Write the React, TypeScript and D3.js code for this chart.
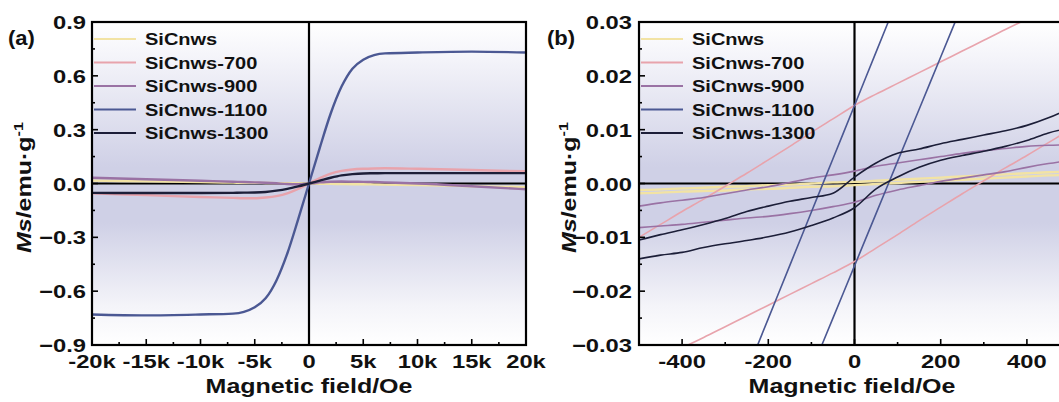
import React, { useEffect, useRef } from 'react';
import * as d3 from 'd3';

// series names + colours (legend order)
const seriesNames = ['SiCnws', 'SiCnws-700', 'SiCnws-900', 'SiCnws-1100', 'SiCnws-1300'];
const seriesColors = ['#f2e3a4', '#e8a3ac', '#9a72a4', '#4b5893', '#1c1e38'];

// panel (a): full loops, field in Oe
const fieldA = [-20000, -15000, -10000, -7000, -6000, -5000, -4000, -3000, -2000, -1000, 0, 1000, 2000, 3000, 4000, 5000, 6000, 7000, 10000, 15000, 20000];
const msA_SiCnws = [0.016, 0.012, 0.008, 0.005, 0.004, 0.004, 0.003, 0.002, 0.002, 0.001, 0, -0.001, -0.002, -0.003, -0.004, -0.004, -0.005, -0.006, -0.009, -0.015, -0.02];
const msA_700 = [-0.055, -0.065, -0.075, -0.08, -0.082, -0.082, -0.078, -0.07, -0.055, -0.03, 0, 0.03, 0.055, 0.07, 0.078, 0.082, 0.084, 0.085, 0.082, 0.075, 0.068];
const msA_900 = [0.032, 0.024, 0.015, 0.01, 0.008, 0.006, 0.004, 0.001, -0.003, -0.004, 0, 0.006, 0.01, 0.011, 0.01, 0.009, 0.008, 0.006, 0.0, -0.015, -0.032];
const msA_1100 = [-0.73, -0.735, -0.73, -0.725, -0.715, -0.69, -0.64, -0.54, -0.39, -0.2, 0, 0.2, 0.39, 0.54, 0.64, 0.69, 0.715, 0.725, 0.73, 0.735, 0.73];
const msA_1300 = [-0.052, -0.053, -0.053, -0.052, -0.051, -0.05, -0.047, -0.04, -0.03, -0.016, 0, 0.016, 0.032, 0.045, 0.052, 0.056, 0.057, 0.058, 0.058, 0.058, 0.058];

// panel (b): low-field zoom, two branches per sample
const fieldB = [-500, -450, -400, -350, -300, -250, -200, -150, -100, -50, 0, 50, 100, 150, 200, 250, 300, 350, 400, 450, 500];
const msB_SiCnws_up = [-0.0012, -0.0011, -0.0009, -0.0008, -0.0006, -0.0005, -0.0003, -0.0002, 0.0, 0.0002, 0.0003, 0.0005, 0.0007, 0.0009, 0.0011, 0.0013, 0.0015, 0.0017, 0.0019, 0.0021, 0.0022];
const msB_SiCnws_down = [-0.0018, -0.0017, -0.0015, -0.0014, -0.0013, -0.0011, -0.001, -0.0008, -0.0006, -0.0005, -0.0003, -0.0001, 0.0001, 0.0003, 0.0005, 0.0007, 0.0009, 0.0011, 0.0013, 0.0015, 0.0016];
const msB_700_up = [-0.01, -0.0076, -0.0052, -0.0029, -0.0005, 0.0019, 0.0044, 0.0069, 0.0095, 0.012, 0.0145, 0.0166, 0.0186, 0.0206, 0.0226, 0.0246, 0.0266, 0.0286, 0.0305, 0.0322, 0.034];
const msB_700_down = [-0.034, -0.0322, -0.0305, -0.0286, -0.0266, -0.0246, -0.0226, -0.0206, -0.0186, -0.0166, -0.0145, -0.012, -0.0095, -0.0069, -0.0044, -0.0019, 0.0005, 0.0029, 0.0052, 0.0076, 0.01];
const msB_900_up = [-0.0042, -0.0036, -0.0031, -0.0026, -0.0019, -0.0012, -0.0006, 0.0002, 0.001, 0.0016, 0.0023, 0.0032, 0.0038, 0.0044, 0.005, 0.0056, 0.0061, 0.0065, 0.0069, 0.0071, 0.0072];
const msB_900_down = [-0.0082, -0.0079, -0.0076, -0.0072, -0.0068, -0.0064, -0.0061, -0.0056, -0.005, -0.0043, -0.0035, -0.0022, -0.0012, -0.0004, 0.0004, 0.001, 0.0016, 0.0022, 0.003, 0.0037, 0.0043];
const msB_1100_up = [-0.0845, -0.0746, -0.0647, -0.0548, -0.0449, -0.035, -0.0251, -0.0152, -0.0053, 0.0046, 0.0145, 0.0244, 0.0343, 0.0442, 0.0541, 0.064, 0.0739, 0.0838, 0.0937, 0.1036, 0.1135];
const msB_1100_down = [-0.1123, -0.1026, -0.0929, -0.0832, -0.0735, -0.0638, -0.0541, -0.0444, -0.0347, -0.025, -0.0153, -0.0056, 0.0041, 0.0138, 0.0235, 0.0332, 0.0429, 0.0526, 0.0623, 0.072, 0.0817];
const msB_1300_up = [-0.0105, -0.0095, -0.0086, -0.0076, -0.0065, -0.0052, -0.0042, -0.0033, -0.0026, -0.0018, 0.0012, 0.0038, 0.0056, 0.0064, 0.0074, 0.0082, 0.009, 0.0098, 0.0108, 0.0122, 0.014];
const msB_1300_down = [-0.014, -0.0133, -0.0128, -0.0119, -0.0112, -0.0106, -0.0099, -0.009, -0.0078, -0.0064, -0.0045, -0.001, 0.0012, 0.003, 0.0043, 0.0052, 0.006, 0.0069, 0.008, 0.0094, 0.0103];

// ticks
const ticksA_x = [-20000, -15000, -10000, -5000, 0, 5000, 10000, 15000, 20000];
const ticksA_y = [-0.9, -0.6, -0.3, 0.0, 0.3, 0.6, 0.9];
const ticksB_x = [-400, -200, 0, 200, 400];
const ticksB_y = [-0.03, -0.02, -0.01, 0.0, 0.01, 0.02, 0.03];

const FONT = 'Arial, "Liberation Sans", sans-serif';
const STRETCH = 1.25; // the figure's bold sans is wider than Arial

const App = () => {
  const ref = useRef<SVGSVGElement | null>(null);

  useEffect(() => {
    const svg = d3.select(ref.current);
    svg.selectAll('*').remove();

    // bold text, stretched horizontally around its anchor
    const label = (parent: any, x: number, y: number, str: string, size: number,
      anchor = 'start', rotate = 0, sx = STRETCH) => {
      const t = parent.append('g')
        .attr('transform', `translate(${x},${y}) rotate(${rotate}) scale(${sx},1)`)
        .append('text')
        .attr('text-anchor', anchor)
        .attr('font-family', FONT).attr('font-weight', 'bold').attr('font-size', size)
        .attr('fill', '#111');
      if (str) t.text(str);
      return t;
    };

    const defs = svg.append('defs');
    const grad = defs.append('linearGradient')
      .attr('id', 'bg').attr('x1', 0).attr('y1', 0).attr('x2', 0).attr('y2', 1);
    grad.append('stop').attr('offset', '0%').attr('stop-color', '#ffffff');
    grad.append('stop').attr('offset', '12%').attr('stop-color', '#f3f3f9');
    grad.append('stop').attr('offset', '45%').attr('stop-color', '#cfd0e6');
    grad.append('stop').attr('offset', '62%').attr('stop-color', '#cfd0e6');
    grad.append('stop').attr('offset', '88%').attr('stop-color', '#f4f4f9');
    grad.append('stop').attr('offset', '100%').attr('stop-color', '#ffffff');

    const panels = [
      {
        id: 'a', label: '(a)', left: 92, right: 526, top: 22, bottom: 345,
        xDomain: [-20000, 20000], yDomain: [-0.9, 0.9],
        xTicks: ticksA_x, yTicks: ticksA_y,
        xFmt: (d: number) => (d === 0 ? '0' : `${d / 1000}k`),
        yFmt: d3.format('.1f'),
        lw: 2.4,
        series: [
          [msA_SiCnws], [msA_700], [msA_900], [msA_1100], [msA_1300]
        ],
        field: fieldA,
        labelX: 8, yLabelX: 31, tickLabelX: 86, titleX: 309,
      },
      {
        id: 'b', label: '(b)', left: 639, right: 1070, top: 22, bottom: 345,
        xDomain: [-500, 500], yDomain: [-0.03, 0.03],
        xTicks: ticksB_x, yTicks: ticksB_y,
        xFmt: (d: number) => `${d}`,
        yFmt: d3.format('.2f'),
        lw: 1.6,
        series: [
          [msB_SiCnws_up, msB_SiCnws_down], [msB_700_up, msB_700_down], [msB_900_up, msB_900_down],
          [msB_1100_up, msB_1100_down], [msB_1300_up, msB_1300_down]
        ],
        field: fieldB,
        labelX: 547, yLabelX: 576, tickLabelX: 632, titleX: 852,
      },
    ];

    panels.forEach(p => {
      const x = d3.scaleLinear().domain(p.xDomain).range([p.left, p.right]);
      const y = d3.scaleLinear().domain(p.yDomain).range([p.bottom, p.top]);
      const w = p.right - p.left;
      const h = p.bottom - p.top;

      defs.append('clipPath').attr('id', `clip-${p.id}`)
        .append('rect').attr('x', p.left).attr('y', p.top).attr('width', w).attr('height', h);

      const g = svg.append('g');
      g.append('rect')
        .attr('x', p.left).attr('y', p.top).attr('width', w).attr('height', h)
        .attr('fill', 'url(#bg)');

      // zero lines
      g.append('line').attr('x1', p.left).attr('x2', p.right).attr('y1', y(0)).attr('y2', y(0))
        .attr('stroke', '#000').attr('stroke-width', 2.2);
      g.append('line').attr('x1', x(0)).attr('x2', x(0)).attr('y1', p.top).attr('y2', p.bottom)
        .attr('stroke', '#000').attr('stroke-width', 2.2);

      const line = d3.line<number>()
        .x((_, i) => x(p.field[i]))
        .y(d => y(d))
        .curve(d3.curveMonotoneX);

      const curves = g.append('g').attr('clip-path', `url(#clip-${p.id})`);
      p.series.forEach((branches, si) => {
        branches.forEach(vals => {
          curves.append('path')
            .attr('d', line(vals))
            .attr('fill', 'none')
            .attr('stroke', seriesColors[si])
            .attr('stroke-width', si === 0 && p.id === 'b' ? 2.4 : p.lw)
            .attr('stroke-linejoin', 'round');
        });
      });

      // frame
      g.append('rect')
        .attr('x', p.left).attr('y', p.top).attr('width', w).attr('height', h)
        .attr('fill', 'none').attr('stroke', '#000').attr('stroke-width', 2.2);

      // ticks: major at labels, minor halfway
      const xStep = p.xTicks[1] - p.xTicks[0];
      d3.range(p.xDomain[0], p.xDomain[1] + 1e-9, xStep / 2)
        .filter(v => v > p.xDomain[0] && v < p.xDomain[1])
        .forEach(v => {
          const major = p.xTicks.some(t => Math.abs(t - v) < 1e-9);
          g.append('line').attr('x1', x(v)).attr('x2', x(v))
            .attr('y1', p.bottom).attr('y2', p.bottom - (major ? 6 : 3))
            .attr('stroke', '#000').attr('stroke-width', 1.6);
        });
      const yStep = p.yTicks[1] - p.yTicks[0];
      d3.range(p.yTicks.length * 2 - 1).map(i => p.yTicks[0] + i * yStep / 2)
        .filter(v => v > p.yDomain[0] + 1e-9 && v < p.yDomain[1] - 1e-9)
        .forEach((v, i) => {
          const major = i % 2 === 1;
          g.append('line').attr('x1', p.left).attr('x2', p.left + (major ? 6 : 3))
            .attr('y1', y(v)).attr('y2', y(v))
            .attr('stroke', '#000').attr('stroke-width', 1.6);
        });

      // tick labels
      p.xTicks.forEach(d => label(g, x(d), p.bottom + 23, p.xFmt(d), 19, 'middle'));
      p.yTicks.forEach(d => label(g, p.tickLabelX, y(d) + 7, p.yFmt(d), 19, 'end'));

      // axis titles
      label(g, p.titleX, 393, 'Magnetic field/Oe', 20, 'middle');
      const yl = label(g, p.yLabelX, (p.top + p.bottom) / 2 + 4, '', 20, 'middle', -90);
      yl.append('tspan').attr('font-style', 'italic').text('Ms');
      yl.append('tspan').text('/emu·g');
      yl.append('tspan').attr('font-size', 13).attr('dy', -8).text('-1');

      // panel label
      label(g, p.labelX, 45, p.label, 20, 'start', 0, 1.1);

      // legend
      seriesNames.forEach((name, i) => {
        const ly = 39 + i * 23.5;
        g.append('line')
          .attr('x1', p.left + 2).attr('x2', p.left + 44)
          .attr('y1', ly).attr('y2', ly)
          .attr('stroke', seriesColors[i]).attr('stroke-width', 2);
        label(g, p.left + 53, ly + 6, name, 16);
      });
    });
  }, []);

  return (
    <svg ref={ref} width={1059} height={402}
      style={{ position: 'absolute', left: 0, top: 0, background: '#fff' }} />
  );
};

export default App;
